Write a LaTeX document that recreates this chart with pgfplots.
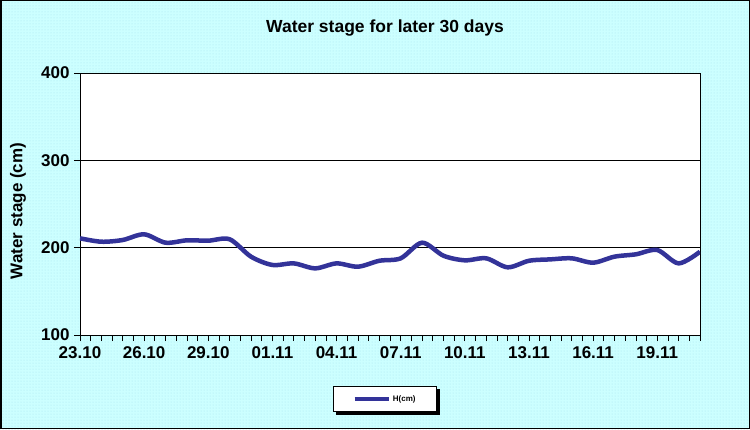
\documentclass[border=0pt]{standalone}
\usepackage{pgfplots}
\pgfplotsset{compat=1.18}
\usepackage{fontspec}
\setmainfont{Liberation Sans}
\usetikzlibrary{patterns}
\definecolor{bgc}{HTML}{CCFFFF}
\definecolor{dotc}{HTML}{A8E4F0}
\definecolor{linec}{HTML}{333399}
\begin{document}
\begin{tikzpicture}
\fill[bgc] (0pt,0pt) rectangle (750pt,429pt);
\fill[pattern=dots,pattern color=dotc] (0pt,0pt) rectangle (750pt,429pt);
\node[font=\bfseries\fontsize{17.5}{20}\selectfont] at (385pt,401pt) {Water stage for later 30 days};
\fill[black] (336pt,14pt) rectangle (440pt,40pt);
\begin{axis}[
  at={(80pt,94pt)}, anchor=south west,
  scale only axis, width=620pt, height=262pt,
  axis background/.style={fill=white},
  xmin=0, xmax=29, ymin=100, ymax=400,
  xtick={0,3,...,27},
  xticklabels={23.10,26.10,29.10,01.11,04.11,07.11,10.11,13.11,16.11,19.11},
  minor xtick={0,0.5,...,29},
  ytick={100,200,300,400},
  ymajorgrids, grid style={black, line width=0.6pt},
  axis line style={black, line width=0.9pt},
  tick style={black, line width=0.7pt},
  tick align=outside,
  major tick length=6pt, minor tick length=6pt,
  xtick pos=bottom, ytick pos=left,
  /pgf/number format/assume math mode=true,
  ticklabel style={font=\bfseries\fontsize{17}{20}\selectfont},
  yticklabel style={xshift=-1pt},
  xticklabel style={yshift=-2pt},
  ylabel={Water stage (cm)},
  ylabel style={font=\bfseries\fontsize{17}{20}\selectfont, at={(axis description cs:-0.1,0.473)}, anchor=center},
  legend style={at={(axis description cs:0.492,-0.244)}, anchor=center,
    draw=black, line width=0.8pt, fill=white,
    font=\bfseries\fontsize{8}{10}\selectfont, inner xsep=19pt, inner ysep=7pt},
  legend image code/.code={\draw[#1] (0pt,0pt) -- (34pt,0pt);},
]
\addplot[smooth, line width=4.5pt, color=linec] coordinates {
(0,210.7) (1,206.8) (2,208.8) (3,215.3) (4,205.7) (5,208.4) (6,208) (7,209.6)
(8,189.7) (9,180.2) (10,182) (11,176.3) (12,182) (13,178.2) (14,185) (15,187.8)
(16,205.7) (17,190.8) (18,185.5) (19,187.8) (20,177.5) (21,185) (22,186.6) (23,187.8)
(24,182.8) (25,189.7) (26,192.4) (27,197.3) (28,182) (29,195.4)
};
\addlegendentry{H(cm)}
\end{axis}
\draw[black,line width=1.5pt] (0.75pt,0.75pt) rectangle (749.25pt,428.25pt);
\end{tikzpicture}
\end{document}
